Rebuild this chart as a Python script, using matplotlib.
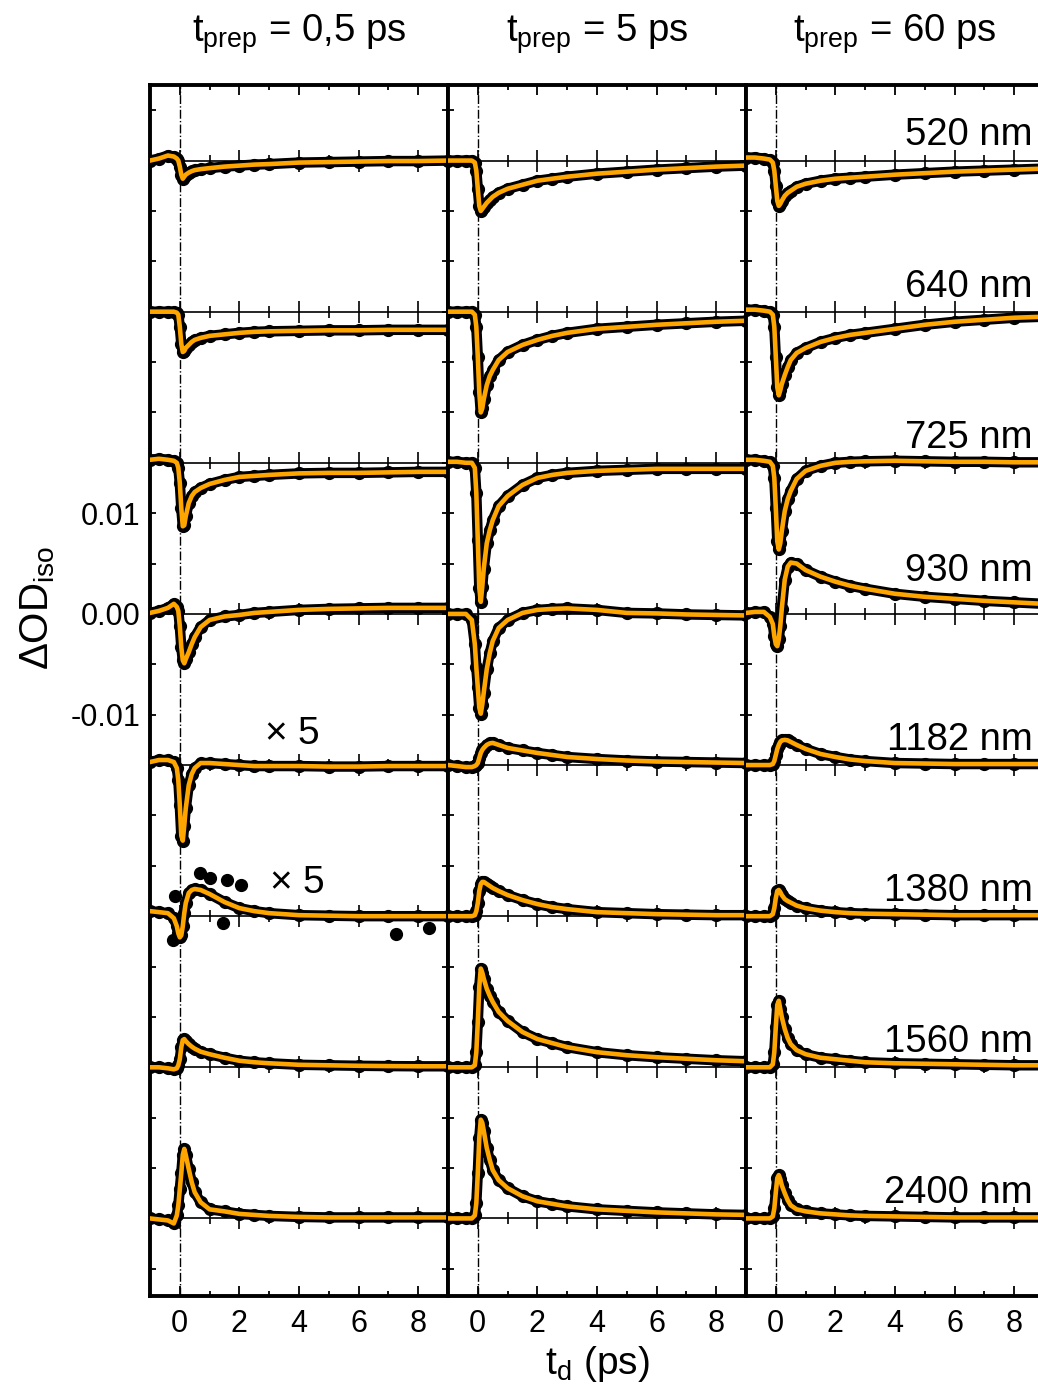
import matplotlib.pyplot as plt
from matplotlib.ticker import MultipleLocator, FuncFormatter

plt.rcParams['font.family'] = ['Liberation Sans', 'DejaVu Sans']
plt.rcParams['mathtext.fontset'] = 'custom'
plt.rcParams['mathtext.rm'] = 'Liberation Sans'
plt.rcParams['mathtext.it'] = 'Liberation Sans'
plt.rcParams['mathtext.default'] = 'regular'
plt.rcParams['axes.unicode_minus'] = False

# probe delay (ps)
t_d = [-1.0, -0.7, -0.4, -0.2, -0.1, -0.05, 0.0, 0.05, 0.1, 0.15, 0.2, 0.3, 0.4,
       0.5, 0.7, 1.0, 1.5, 2.0, 2.5, 3.0, 4.0, 5.0, 6.0, 7.0, 8.0, 9.0]

wavelengths = ['520 nm', '640 nm', '725 nm', '930 nm',
               '1182 nm', '1380 nm', '1560 nm', '2400 nm']
prep_labels = ['0,5', '5', '60']

# isotropic ΔOD in mOD, one row per probe wavelength
prep_05 = [
    [0.0, 0.2, 0.5, 0.4, 0.2, 0.0, -0.6, -1.4, -1.8, -1.6, -1.4, -1.2, -1.05,
     -0.95, -0.85, -0.75, -0.6, -0.5, -0.4, -0.35, -0.2, -0.15, -0.1, -0.05, -0.05, 0.0],
    [0.0, 0.0, 0.0, 0.0, -0.1, -0.3, -1.5, -3.2, -4.0, -3.9, -3.6, -3.3, -3.0,
     -2.8, -2.6, -2.4, -2.25, -2.1, -2.0, -1.95, -1.9, -1.85, -1.85, -1.8, -1.8, -1.8],
    [0.3, 0.4, 0.3, 0.2, 0.0, -0.5, -2.0, -4.5, -6.3, -6.2, -5.3, -4.0, -3.3,
     -2.9, -2.5, -2.1, -1.7, -1.4, -1.3, -1.2, -1.05, -1.0, -1.0, -0.95, -0.9, -0.9],
    [0.1, 0.3, 0.6, 1.0, 0.7, 0.3, -1.2, -3.3, -4.6, -4.9, -4.5, -3.8, -3.0,
     -2.3, -1.3, -0.6, -0.25, -0.1, 0.1, 0.2, 0.4, 0.5, 0.55, 0.6, 0.6, 0.6],
    [0.06, 0.1, 0.1, 0.06, -0.06, -0.3, -0.8, -1.4, -1.5, -1.2, -0.86, -0.4, -0.18,
     -0.06, 0.04, 0.04, 0.02, 0.0, -0.02, -0.02, -0.02, -0.03, -0.03, -0.02, -0.02, -0.02],
    [0.1, 0.08, 0.06, -0.04, -0.2, -0.34, -0.42, -0.38, -0.2, 0.06, 0.26, 0.46, 0.52,
     0.54, 0.52, 0.44, 0.28, 0.16, 0.1, 0.06, 0.02, 0.01, 0.0, 0.0, 0.0, 0.0],
    [0.0, 0.0, -0.1, -0.2, -0.1, 0.2, 0.8, 2.0, 2.7, 2.8, 2.6, 2.3, 2.05,
     1.85, 1.55, 1.3, 0.95, 0.65, 0.5, 0.4, 0.25, 0.2, 0.15, 0.12, 0.1, 0.1],
    [0.0, -0.1, -0.2, -0.5, 0.3, 1.3, 2.9, 4.5, 6.3, 6.9, 6.3, 4.9, 3.6,
     2.6, 1.6, 0.9, 0.7, 0.45, 0.35, 0.25, 0.15, 0.1, 0.1, 0.1, 0.1, 0.1],
]
prep_5 = [
    [0.0, 0.0, 0.0, 0.0, -0.2, -1.0, -2.8, -4.5, -5.0, -4.8, -4.6, -4.2, -3.9,
     -3.6, -3.2, -2.8, -2.4, -2.0, -1.8, -1.6, -1.3, -1.1, -0.9, -0.75, -0.6, -0.5],
    [0.0, 0.0, 0.0, 0.0, -0.3, -1.5, -4.5, -8.0, -10.0, -9.6, -8.7, -7.3, -6.4,
     -5.8, -4.8, -4.0, -3.3, -2.8, -2.4, -2.1, -1.7, -1.5, -1.3, -1.15, -1.0, -0.9],
    [0.1, 0.1, 0.0, 0.0, -0.5, -3.0, -7.7, -12.4, -13.8, -12.3, -10.5, -8.0, -6.7,
     -5.7, -4.3, -3.3, -2.2, -1.5, -1.2, -1.0, -0.8, -0.7, -0.6, -0.6, -0.6, -0.6],
    [0.0, 0.0, 0.0, -0.6, -3.0, -5.3, -7.3, -9.3, -9.9, -9.0, -7.8, -5.5, -3.9,
     -2.7, -1.4, -0.6, 0.1, 0.4, 0.5, 0.55, 0.4, 0.1, 0.05, -0.05, -0.1, -0.15],
    [0.0, -0.1, -0.2, -0.2, -0.1, 0.0, 0.2, 0.7, 1.2, 1.5, 1.7, 2.0, 2.15,
     2.2, 2.0, 1.7, 1.45, 1.2, 1.0, 0.8, 0.6, 0.45, 0.35, 0.3, 0.25, 0.2],
    [0.0, 0.0, 0.0, 0.0, 0.1, 0.5, 1.3, 2.5, 3.2, 3.4, 3.4, 3.2, 3.0,
     2.8, 2.5, 2.1, 1.6, 1.2, 0.9, 0.7, 0.4, 0.3, 0.2, 0.15, 0.1, 0.1],
    [0.0, 0.0, 0.0, 0.0, 0.2, 1.5, 4.5, 8.0, 9.8, 9.4, 8.8, 7.8, 7.1,
     6.5, 5.5, 4.6, 3.5, 2.8, 2.4, 2.0, 1.5, 1.2, 1.0, 0.85, 0.7, 0.6],
    [0.0, 0.0, 0.0, 0.0, 0.3, 1.5, 4.5, 8.0, 9.8, 9.5, 8.7, 7.0, 5.8,
     4.8, 3.8, 3.0, 2.2, 1.7, 1.45, 1.2, 0.9, 0.75, 0.6, 0.5, 0.4, 0.35],
]
prep_60 = [
    [0.3, 0.3, 0.2, 0.1, -0.2, -1.0, -2.5, -4.0, -4.5, -4.3, -4.0, -3.5, -3.2,
     -3.0, -2.6, -2.3, -2.0, -1.8, -1.7, -1.6, -1.4, -1.25, -1.1, -1.0, -0.9, -0.8],
    [0.2, 0.2, 0.1, 0.0, -0.3, -1.5, -4.5, -7.5, -8.3, -7.8, -7.2, -6.3, -5.5,
     -4.8, -4.1, -3.6, -3.0, -2.6, -2.3, -2.1, -1.7, -1.3, -1.0, -0.8, -0.6, -0.5],
    [0.3, 0.3, 0.2, 0.1, -0.3, -1.5, -4.5, -7.8, -8.6, -8.0, -6.8, -4.8, -3.6,
     -2.8, -1.6, -0.8, -0.3, 0.0, 0.1, 0.15, 0.2, 0.15, 0.1, 0.1, 0.05, 0.05],
    [0.1, 0.2, 0.2, -0.3, -1.0, -2.2, -3.0, -3.2, -2.5, -1.2, 0.5, 3.4, 4.7,
     5.1, 5.0, 4.35, 3.7, 3.2, 2.8, 2.5, 2.0, 1.7, 1.5, 1.3, 1.15, 1.0],
    [0.0, 0.0, 0.0, 0.0, 0.1, 0.4, 1.0, 1.6, 2.0, 2.3, 2.45, 2.5, 2.45,
     2.3, 2.0, 1.6, 1.1, 0.8, 0.55, 0.4, 0.2, 0.15, 0.1, 0.1, 0.1, 0.1],
    [0.0, 0.0, 0.0, 0.0, 0.2, 0.8, 1.8, 2.5, 2.6, 2.4, 2.1, 1.7, 1.5,
     1.35, 1.05, 0.8, 0.55, 0.4, 0.3, 0.25, 0.2, 0.15, 0.1, 0.1, 0.1, 0.1],
    [0.0, 0.0, 0.0, 0.0, 0.3, 1.5, 4.0, 6.2, 6.6, 5.8, 5.0, 3.8, 2.9,
     2.3, 1.7, 1.3, 0.95, 0.8, 0.65, 0.5, 0.4, 0.35, 0.3, 0.25, 0.2, 0.2],
    [0.0, 0.0, 0.0, 0.0, 0.2, 1.0, 2.6, 4.0, 4.3, 3.9, 3.3, 2.5, 1.8,
     1.3, 0.9, 0.7, 0.5, 0.4, 0.3, 0.25, 0.2, 0.15, 0.1, 0.1, 0.1, 0.1],
]
# weak 1182 / 1380 nm signals at t_prep = 0,5 ps are magnified
scale_05 = [1, 1, 1, 1, 5, 5, 1, 1]
# scattered single points of the 1380 nm trace at t_prep = 0,5 ps (mOD)
stray_t = [-0.23, -0.17, 0.67, 1.0, 1.45, 1.58, 2.04, 7.27, 8.36]
stray_od = [-0.48, 0.4, 0.86, 0.76, -0.14, 0.72, 0.62, -0.36, -0.24]

panels = [prep_05, prep_5, prep_60]
scales = [scale_05, [1] * 8, [1] * 8]

W, H = 1038, 1392
step = 15.0                    # mOD between stacked traces
ylo, yhi = -67.7, 52.5         # mOD
orange = '#FFA500'

fig = plt.figure(figsize=(W / 100, H / 100), dpi=100)

axes = []
for k, (traces, scl) in enumerate(zip(panels, scales)):
    ax = fig.add_axes([(150 + 298 * k) / W, 96 / H, 298 / W, 1211 / H])
    axes.append(ax)
    ax.set_xlim(-1, 9)
    ax.set_ylim(ylo * 1e-3, yhi * 1e-3)
    for sp in ax.spines.values():
        sp.set_linewidth(2.8)
    ax.xaxis.set_major_locator(MultipleLocator(2))
    ax.xaxis.set_minor_locator(MultipleLocator(1))
    ax.yaxis.set_major_locator(MultipleLocator(0.005))
    ax.tick_params(which='both', direction='in', top=True, right=True,
                   width=1.3, labelsize=22)
    ax.tick_params(axis='x', which='major', length=7, pad=9)
    ax.tick_params(axis='x', which='minor', length=3.5)
    ax.tick_params(axis='y', which='major', length=4, pad=7)
    if k == 0:
        ax.yaxis.set_major_formatter(FuncFormatter(
            lambda v, p: f'{v:.2f}' if round(v / 0.005) in (-2, 0, 2) else ''))
    else:
        ax.tick_params(axis='y', labelleft=False)

    ax.axvline(0, color='k', lw=1.0, ls='-.', zorder=1)

    for i, (vals, s) in enumerate(zip(traces, scl)):
        off = (3 - i) * step
        # zero line of this trace, with its own ticks
        sec = ax.secondary_xaxis((off - ylo) / (yhi - ylo))
        for sp in sec.spines.values():
            sp.set_linewidth(1.2)
        sec.xaxis.set_major_locator(MultipleLocator(2))
        sec.xaxis.set_minor_locator(MultipleLocator(1))
        sec.tick_params(which='both', direction='inout', width=1.2,
                        labelbottom=False, labeltop=False)
        sec.tick_params(which='major', length=16)
        sec.tick_params(which='minor', length=9)

        y = [(off + s * v) * 1e-3 for v in vals]
        ax.plot(t_d, y, color='k', lw=7.5, solid_capstyle='round', zorder=3)
        ax.plot(t_d, y, 'o', color='k', ms=8.5, zorder=3)
        ax.plot(t_d, y, color=orange, lw=3.3, zorder=4)

    fig.text((299 + 298 * k) / W, 1 - 42 / H,
             r'$t_{prep}$ = ' + prep_labels[k] + ' ps',
             ha='center', va='baseline', fontsize=27.5)

# outlying points of the magnified 1380 nm trace
ax0 = axes[0]
ax0.plot(stray_t, [(-2 * step + 5 * v) * 1e-3 for v in stray_od], 'o',
         color='k', ms=8.5, zorder=3)
for mag_row, x_mid, lift in [(1, 3.76, 2.1), (2, 3.93, 2.3)]:
    ax0.text(x_mid, (-mag_row * step + lift) * 1e-3, r'$\times$ 5', ha='center',
             va='baseline', fontsize=28, math_fontfamily='dejavusans')

ax2 = axes[2]
for i, name in enumerate(wavelengths):
    off = (3 - i) * step
    lift = 3.3 if name == '930 nm' else 1.5
    ax2.text(8.62, (off + lift) * 1e-3, name, ha='right', va='baseline', fontsize=27.5)

fig.text(38 / W, 1 - 608 / H, r'$ΔOD_{iso}$', rotation=90,
         ha='center', va='center', fontsize=29)
fig.text(597 / W, 1 - 1374 / H, r'$t_d$ (ps)', ha='center', va='baseline', fontsize=28)

fig.savefig('out.png', dpi=100)
